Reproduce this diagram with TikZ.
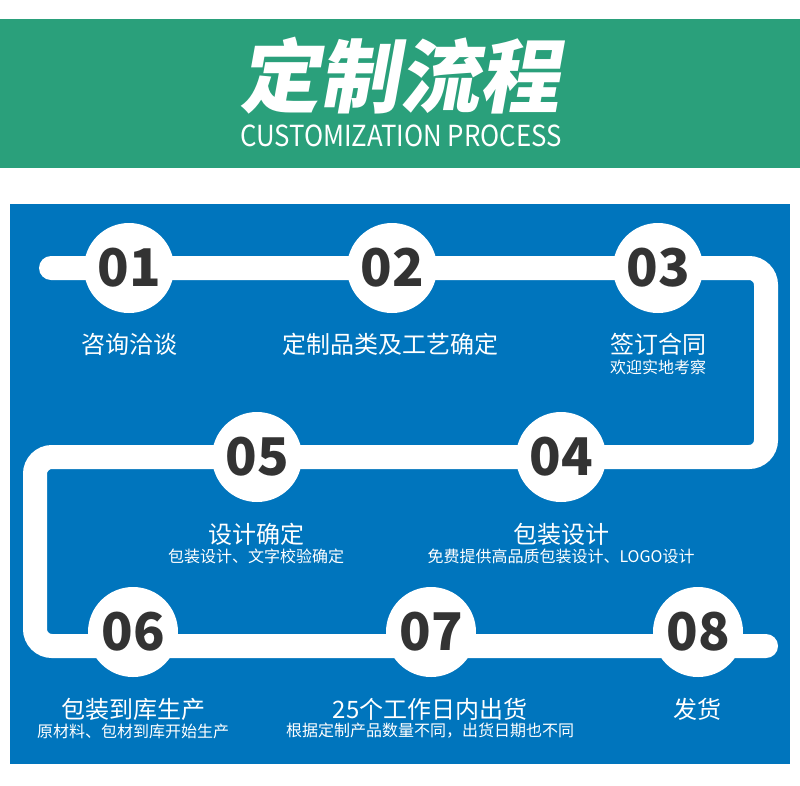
\documentclass[tikz,border=0pt]{standalone}
\usepackage{fontspec}
\setmainfont{Noto Sans CJK SC}
\newfontfamily\titlefont[FakeSlant=0.18]{Noto Sans CJK SC}
\definecolor{bannergreen}{HTML}{2AA07B}
\definecolor{panelblue}{HTML}{0075BD}
\definecolor{numgray}{HTML}{333333}

\begin{document}
\begin{tikzpicture}[x=1pt,y=-1pt,
  track/.style={line width=24pt, white, line cap=round, rounded corners=17pt},
  stepdot/.style={circle, fill=white, minimum size=90pt, inner sep=0pt, text=numgray, font=\fontsize{52}{52}\selectfont\bfseries},
  steplabel/.style={text=white, font=\fontsize{24}{24}\selectfont},
  stepnote/.style={text=white, font=\fontsize{16}{16}\selectfont}]
  \useasboundingbox (0,0) rectangle (800,785);
  % banner
  \fill[bannergreen] (0,19) rectangle (800,168);
  \node[text=white, font=\titlefont\bfseries\fontsize{80}{80}\selectfont] (title) at (399,76) {定制流程};
  \node[text=white, font=\fontsize{29}{29}\selectfont] (subtitle) at (401,136) {\scalebox{0.89}[1]{CUSTOMIZATION PROCESS}};
  % panel and track
  \fill[panelblue] (10,204) rectangle (790,764);
  \coordinate (start) at (51,268); \coordinate (end) at (766,646);
  \draw[track] (start) -- (766,268) -- (766,457) -- (35,457) -- (35,646) -- (end);
  % steps
  \node[stepdot] (s01) at (129,268) {01};
  \node[stepdot] (s02) at (392,268) {02};
  \node[stepdot] (s03) at (658,268) {03};
  \node[stepdot] (s04) at (561,457) {04};
  \node[stepdot] (s05) at (257,457) {05};
  \node[stepdot] (s06) at (133,632) {06};
  \node[stepdot] (s07) at (431,632) {07};
  \node[stepdot] (s08) at (698,632) {08};
  % labels
  \node[steplabel] (l01) at (129,344) {咨询洽谈};
  \node[steplabel] (l02) at (390,344) {定制品类及工艺确定};
  \node[steplabel] (l03) at (658,344) {签订合同};
  \node[stepnote] (n03) at (658,367) {欢迎实地考察};
  \node[steplabel] (l04) at (561,534) {包装设计};
  \node[stepnote] (n04) at (561,556) {免费提供高品质包装设计、LOGO设计};
  \node[steplabel] (l05) at (256,534) {设计确定};
  \node[stepnote] (n05) at (256,556) {包装设计、文字校验确定};
  \node[steplabel] (l06) at (133,709) {包装到库生产};
  \node[stepnote] (n06) at (133,731) {原材料、包材到库开始生产};
  \node[steplabel] (l07) at (430,709) {25个工作日内出货};
  \node[stepnote] (n07) at (430,731) {根据定制产品数量不同，出货日期也不同};
  \node[steplabel] (l08) at (697,709) {发货};
\end{tikzpicture}
\end{document}
